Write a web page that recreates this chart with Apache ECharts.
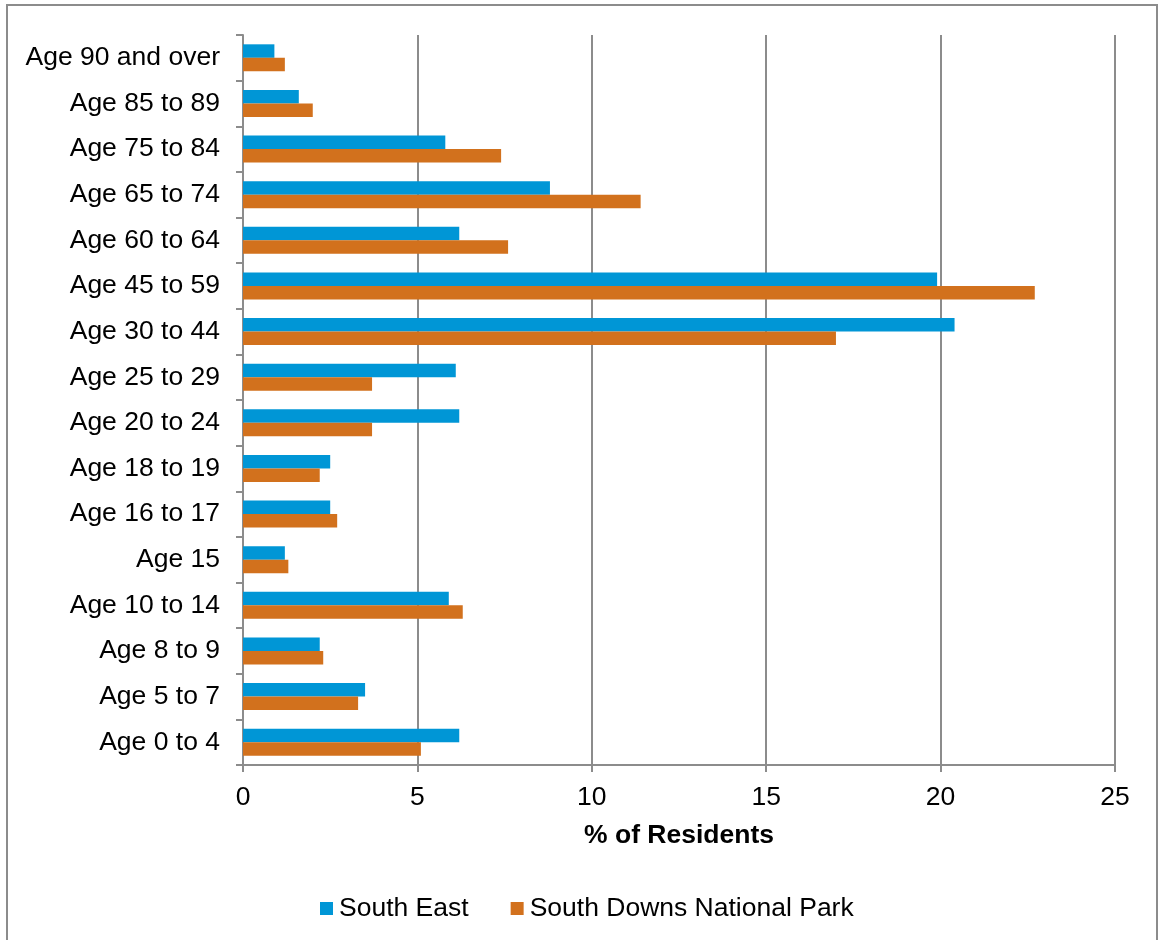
<!DOCTYPE html>
<html>
<head>
<meta charset="utf-8">
<script src="https://cdn.jsdelivr.net/npm/echarts@6/dist/echarts.min.js"></script>
<style>
  html, body { margin: 0; padding: 0; background: #fff; }
  #chart { width: 1159px; height: 940px; }
</style>
</head>
<body>
<div id="chart"></div>
<script>
// Age bands, listed bottom to top along the category axis
const ageBands = [
  'Age 0 to 4', 'Age 5 to 7', 'Age 8 to 9', 'Age 10 to 14', 'Age 15',
  'Age 16 to 17', 'Age 18 to 19', 'Age 20 to 24', 'Age 25 to 29',
  'Age 30 to 44', 'Age 45 to 59', 'Age 60 to 64', 'Age 65 to 74',
  'Age 75 to 84', 'Age 85 to 89', 'Age 90 and over'
];

// Share of residents (%) in each age band
const southEast = [6.2, 3.5, 2.2, 5.9, 1.2, 2.5, 2.5, 6.2, 6.1, 20.4, 19.9, 6.2, 8.8, 5.8, 1.6, 0.9];
const southDowns = [5.1, 3.3, 2.3, 6.3, 1.3, 2.7, 2.2, 3.7, 3.7, 17.0, 22.7, 7.6, 11.4, 7.4, 2.0, 1.2];

const seriesNames = ['South East', 'South Downs National Park'];
const xTicks = { min: 0, max: 25, interval: 5 };

const FONT = 'Liberation Sans, Arial, sans-serif';
const FONT_SIZE = 26.5;
const GRID_GREY = '#8c8c8c';

const chart = echarts.init(document.getElementById('chart'), null, { renderer: 'canvas' });

chart.setOption({
  backgroundColor: '#ffffff',
  animation: false,
  textStyle: { fontFamily: FONT, color: '#000' },
  graphic: [{
    type: 'rect',
    shape: { x: 7, y: 5, width: 1150, height: 945 },
    style: { fill: 'none', stroke: GRID_GREY, lineWidth: 2 },
    silent: true,
    z: -1
  }],
  grid: { left: 243, right: 44, top: 35, bottom: 175 },
  legend: {
    data: seriesNames,
    left: 315,
    top: 890,
    itemWidth: 13,
    itemHeight: 13,
    itemGap: 42,
    icon: 'rect',
    textStyle: { fontFamily: FONT, fontSize: FONT_SIZE, color: '#000', padding: [0, 0, 0, 1] }
  },
  xAxis: {
    type: 'value',
    min: xTicks.min,
    max: xTicks.max,
    interval: xTicks.interval,
    name: '% of Residents',
    nameLocation: 'middle',
    nameGap: 57,
    nameTextStyle: { fontFamily: FONT, fontSize: FONT_SIZE, fontWeight: 'bold', color: '#000' },
    axisLine: { show: true, lineStyle: { color: GRID_GREY, width: 2 } },
    axisTick: { show: true, length: 7, lineStyle: { color: GRID_GREY, width: 2 } },
    axisLabel: { fontFamily: FONT, fontSize: FONT_SIZE, color: '#000', margin: 19 },
    splitLine: { show: true, lineStyle: { color: GRID_GREY, width: 2 } }
  },
  yAxis: {
    type: 'category',
    data: ageBands,
    axisLine: { show: true, lineStyle: { color: GRID_GREY, width: 2 } },
    axisTick: { show: true, length: 7, alignWithLabel: false, lineStyle: { color: GRID_GREY, width: 2 } },
    axisLabel: { fontFamily: FONT, fontSize: FONT_SIZE, color: '#000', margin: 23 },
    splitLine: { show: false }
  },
  series: [
    {
      name: seriesNames[0],
      type: 'bar',
      data: southEast,
      barWidth: 13.5,
      barGap: '0%',
      itemStyle: { color: '#0096d6' }
    },
    {
      name: seriesNames[1],
      type: 'bar',
      data: southDowns,
      barWidth: 13.5,
      barGap: '0%',
      itemStyle: { color: '#d2711d' }
    }
  ]
});
</script>
</body>
</html>
